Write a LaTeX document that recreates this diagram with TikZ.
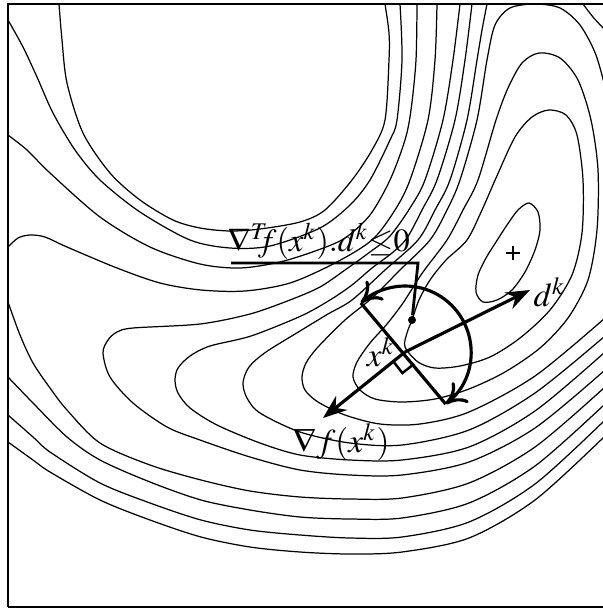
\documentclass[tikz,border=0pt]{standalone}
\usepackage{mathptmx}
\usetikzlibrary{arrows.meta, calc}

\begin{document}
\begin{tikzpicture}[x=0.1mm, y=-0.1mm,
  lvl/.style={line width=0.35pt},
  vec/.style={line width=0.9pt, -{Stealth[length=2.4mm, width=1.8mm]}},
  swing/.style={line width=0.9pt, {Computer Modern Rightarrow[length=2mm, width=2.6mm]}-{Computer Modern Rightarrow[length=2mm, width=2.6mm]}},
  lab/.style={font=\fontsize{9.5}{11}\selectfont, inner sep=0pt},
]
  \useasboundingbox (0,0) rectangle (603,608);
  \draw[line width=0.4pt] (8,607) -- (8,4) -- (610,4);
  \draw[line width=0.4pt] (8,607) -- (610,607);

  % level lines, upper left
  \draw[lvl] plot[smooth] coordinates {(59,4) (62,40) (67,83) (83,133) (110,173) (140,200) (173,220) (200,228) (230,231) (260,229) (300,222) (325,210) (352,180) (372,150) (385,120) (389,60) (389,33) (385,4)};
  \draw[lvl] plot[smooth] coordinates {(8,20) (23,47) (37,77) (53,113) (75,150) (100,180) (140,212) (190,240) (230,248) (270,246) (320,228) (350,205) (370,180) (390,140) (397,120) (402,60) (400,4)};
  \draw[lvl] plot[smooth] coordinates {(8,135) (27,150) (50,173) (100,217) (150,247) (200,264) (240,268) (280,262) (318,250) (345,238) (370,215) (390,180) (405,140) (411,110) (416,60) (417,4)};
  \draw[lvl] plot[smooth] coordinates {(8,247) (18,238) (30,235) (45,237) (67,247) (117,268) (160,283) (201,290) (245,291) (290,283) (335,263) (372,240) (395,210) (410,180) (428,120) (435,60) (437,4)};
  % level lines around the valley
  \draw[lvl] plot[smooth] coordinates {(605,370) (535,428) (469,462) (402,475) (350,475) (300,470) (250,457) (200,440) (167,427) (133,403) (110,377) (103,353) (108,340) (117,332) (133,328) (200,324) (250,314) (290,300) (320,287) (345,270) (370,252) (390,236) (410,208) (425,180) (443,120) (453,60) (460,4)};
  \draw[lvl] plot[smooth] coordinates {(605,352) (535,411) (469,447) (402,460) (350,460) (300,455) (260,443) (217,425) (190,408) (178,393) (175,380) (178,368) (190,356) (210,346) (251,336) (301,316) (330,300) (352,285) (372,268) (392,253) (407,238) (422,210) (437,180) (455,120) (465,60) (472,4)};
  \draw[lvl] plot[smooth] coordinates {(605,336) (535,393) (469,430) (402,445) (350,443) (300,432) (260,413) (247,398) (243,383) (249,367) (266,352) (300,331) (328,314) (352,300) (385,270) (418,240) (435,210) (450,180) (467,120) (477,60) (482,30) (487,4)};
  \draw[lvl] plot[smooth] coordinates {(583,4) (593,17) (605,30)};
  \draw[lvl] plot[smooth] coordinates {(605,318) (535,376) (469,412) (420,424) (380,424) (345,415) (318,402) (305,390) (302,377) (306,363) (318,347) (345,320) (372,298) (400,270) (430,240) (447,210) (460,180) (477,120) (487,60) (495,25) (510,8) (535,4) (560,8) (580,25) (596,55) (607,95)};
  \draw[lvl] plot[smooth cycle] coordinates {(353,377) (357,362) (370,343) (387,324) (403,303) (423,272) (447,240) (463,210) (478,180) (496,120) (508,88) (522,63) (539,53) (560,58) (578,80) (591,120) (598,170) (597,230) (588,280) (568,318) (540,348) (505,372) (469,389) (435,399) (402,402) (375,399) (360,390)};
  \draw[lvl] plot[smooth cycle] coordinates {(405,347) (407,333) (412,320) (419,300) (430,280) (446,260) (467,240) (482,210) (496,178) (515,137) (532,117) (549,110) (566,115) (577,135) (583,180) (582,233) (572,275) (550,310) (520,338) (490,357) (460,366) (435,368) (418,362)};
  \draw[lvl] plot[smooth cycle] coordinates {(529,203) (538,212) (540,230) (535,250) (525,272) (512,290) (497,300) (483,302) (476,292) (478,275) (486,258) (496,242) (507,225) (518,210)};
  % level lines, lower left
  \draw[lvl] plot[smooth] coordinates {(8,302) (20,335) (33,363) (50,388) (67,410) (100,443) (150,465) (201,480) (250,491) (300,497) (350,499) (402,498) (469,483) (535,447) (605,387)};
  \draw[lvl] plot[smooth] coordinates {(8,377) (33,403) (67,437) (100,460) (150,482) (201,500) (250,510) (300,517) (350,519) (402,518) (469,503) (535,466) (605,404)};
  \draw[lvl] plot[smooth] coordinates {(8,415) (33,437) (50,452) (100,483) (150,503) (201,520) (250,530) (300,535) (350,538) (402,537) (469,522) (535,484) (605,420)};
  \draw[lvl] plot[smooth] coordinates {(8,442) (33,460) (50,472) (100,500) (150,520) (201,537) (250,547) (300,552) (350,554) (402,552) (469,538) (535,500) (605,436)};

  % minimum
  \draw[lvl] (506,253) -- (520,253) (513,246) -- (513,260);

  % current point and directions
  \coordinate (xk) at (405,352);
  \coordinate (gtip) at (323,418);
  \coordinate (dtip) at (530,290);
  \coordinate (pa) at ($(xk)+(132:6.6mm)$);
  \coordinate (pb) at ($(xk)+(-52:6.6mm)$);
  \node[circle, fill, inner sep=0pt, minimum size=0.8mm] (dot) at (412,320) {};
  \coordinate (cl) at (231,263);
  \coordinate (cr) at (418,263);

  \draw[vec] (xk) -- (gtip);
  \draw[vec] (xk) -- (dtip);
  \draw[line width=0.9pt] (pa) -- (pb);
  \draw[swing] (pb) arc[start angle=-52, end angle=132, radius=6.6mm];
  \draw[line width=0.7pt] ($(xk)+(-52:1.5mm)$) -- ++(-142:1.5mm) -- ++(128:1.5mm);
  \draw[line width=0.8pt] (cl) -- (cr) -- (dot);

  \node[lab, font=\fontsize{9.2}{11}\selectfont, anchor=base west] (cond) at (227,251) {$\nabla^{T}\!\!\!f(x^k).d^k{\leq}0$};
  \node[lab] (gradlab) at (341,442) {$\nabla f(x^k)$};
  \node[lab] (xklab) at (381,352) {$x^k$};
  \node[lab, anchor=west] (dklab) at (533,292) {$d^k$};
\end{tikzpicture}
\end{document}
